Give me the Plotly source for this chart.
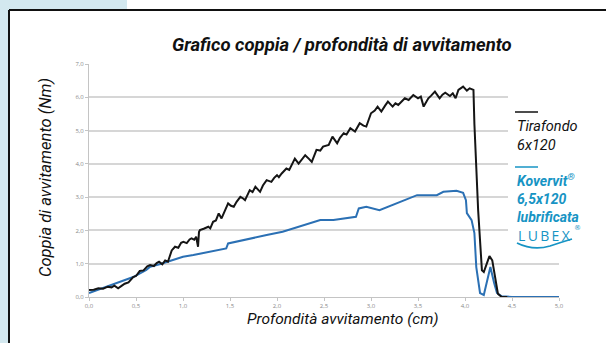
import plotly.graph_objects as go

# Torque vs. screwing depth measurements
tirafondo_x = [0.00, 0.05, 0.10, 0.15, 0.20, 0.24, 0.27, 0.31, 0.35, 0.38, 0.42, 0.47, 0.50, 0.54,
               0.58, 0.62, 0.65, 0.69, 0.72, 0.745, 0.78, 0.81, 0.84, 0.88, 0.915, 0.95, 0.98,
               1.004, 1.04, 1.07, 1.09, 1.12, 1.14, 1.16, 1.17, 1.18, 1.22, 1.27, 1.29, 1.32,
               1.35, 1.38, 1.41, 1.44, 1.48, 1.51, 1.54, 1.57, 1.61, 1.64, 1.66, 1.71, 1.74,
               1.77, 1.82, 1.85, 1.89, 1.94, 1.97, 2.00, 2.02, 2.05, 2.10, 2.13, 2.16, 2.19,
               2.23, 2.26, 2.30, 2.34, 2.37, 2.42, 2.46, 2.49, 2.55, 2.59, 2.64, 2.67, 2.71,
               2.74, 2.78, 2.83, 2.88, 2.92, 2.95, 3.00, 3.04, 3.07, 3.11, 3.15, 3.18, 3.23,
               3.26, 3.29, 3.33, 3.36, 3.40, 3.45, 3.50, 3.53, 3.56, 3.61, 3.64, 3.68, 3.73,
               3.76, 3.79, 3.84, 3.87, 3.90, 3.93, 3.98, 4.02, 4.05, 4.09, 4.10, 4.14, 4.18,
               4.20, 4.23, 4.26, 4.29, 4.32, 4.35, 4.39, 4.45]
tirafondo_y = [0.21, 0.22, 0.26, 0.25, 0.31, 0.29, 0.34, 0.26, 0.34, 0.40, 0.44, 0.60, 0.63, 0.78,
               0.80, 0.92, 0.96, 0.93, 1.02, 1.06, 0.98, 1.10, 1.06, 1.40, 1.51, 1.48, 1.63,
               1.66, 1.62, 1.73, 1.76, 1.72, 1.81, 1.51, 1.95, 2.01, 2.05, 2.11, 2.06, 2.26,
               2.30, 2.51, 2.36, 2.55, 2.81, 2.74, 2.71, 2.86, 3.01, 2.96, 2.91, 3.21, 3.15,
               3.31, 3.16, 3.35, 3.51, 3.46, 3.58, 3.66, 3.60, 3.71, 3.86, 3.82, 4.00, 4.16,
               4.01, 4.12, 4.26, 4.15, 4.06, 4.42, 4.40, 4.52, 4.57, 4.82, 4.62, 4.78, 4.92,
               4.88, 5.07, 4.97, 5.22, 5.15, 5.12, 5.52, 5.60, 5.72, 5.57, 5.75, 5.87, 5.72,
               5.82, 5.77, 5.90, 5.97, 5.92, 6.07, 5.97, 6.02, 5.72, 5.97, 6.05, 6.17, 5.97,
               6.08, 6.14, 6.04, 6.12, 5.97, 6.22, 6.32, 6.20, 6.27, 6.22, 5.20, 2.60, 0.80,
               0.75, 0.96, 1.23, 1.10, 0.60, 0.10, 0.00, 0.00]

kovervit_x = [0.00, 0.10, 0.26, 0.47, 0.61, 0.65, 0.76, 0.90, 1.00, 1.11, 1.32, 1.46, 1.48, 1.71,
              1.89, 2.06, 2.28, 2.46, 2.60, 2.84, 2.87, 2.95, 3.09, 3.27, 3.41, 3.49, 3.70, 3.77,
              3.91, 3.98, 4.01, 4.02, 4.07, 4.10, 4.12, 4.16, 4.20, 4.23, 4.27, 4.31, 4.34, 4.39,
              4.50, 5.00]
kovervit_y = [0.12, 0.22, 0.39, 0.60, 0.81, 0.91, 0.99, 1.11, 1.21, 1.26, 1.38, 1.46, 1.61, 1.76,
              1.86, 1.96, 2.16, 2.31, 2.31, 2.41, 2.66, 2.71, 2.61, 2.81, 2.97, 3.06, 3.06, 3.16,
              3.19, 3.13, 2.91, 2.52, 2.31, 1.92, 0.90, 0.12, 0.06, 0.42, 0.90, 0.42, 0.12, 0.02,
              0.00, 0.00]

x_ticks = [0.0, 0.5, 1.0, 1.5, 2.0, 2.5, 3.0, 3.5, 4.0, 4.5, 5.0]
y_ticks = [0, 1, 2, 3, 4, 5, 6, 7]

W, H = 606, 343
L, R, T, B = 89, 47, 64, 46
PW, PH = W - L - R, H - T - B


def px(x):
    return (x - L) / PW


def py(y):
    return (H - B - y) / PH


COND = "Liberation Sans Narrow, Arial Narrow, Roboto, sans-serif"
BLUE_TXT = "#1794c4"

fig = go.Figure()
fig.add_trace(go.Scatter(x=kovervit_x, y=kovervit_y, mode="lines",
                         line=dict(color="#2b70b4", width=2), hoverinfo="skip"))
fig.add_trace(go.Scatter(x=tirafondo_x, y=tirafondo_y, mode="lines",
                         line=dict(color="#151515", width=2), hoverinfo="skip"))

shapes = [
    # light blue page edges
    dict(type="rect", xref="paper", yref="paper", x0=px(0), x1=px(127), y0=py(0), y1=py(10),
         fillcolor="#d3e8ef", line_width=0, layer="below"),
    dict(type="rect", xref="paper", yref="paper", x0=px(0), x1=px(9), y0=py(0), y1=py(343),
         fillcolor="#d3e8ef", line_width=0, layer="below"),
    # card border
    dict(type="line", xref="paper", yref="paper", x0=px(9), x1=px(606), y0=py(10), y1=py(10),
         line=dict(color="#111", width=2)),
    dict(type="line", xref="paper", yref="paper", x0=px(9), x1=px(9), y0=py(10), y1=py(343),
         line=dict(color="#111", width=2)),
    # white panel behind the legend
    dict(type="rect", xref="paper", yref="paper", x0=px(508), x1=px(606), y0=py(75), y1=py(252),
         fillcolor="white", line_width=0, layer="above"),
    # legend keys
    dict(type="line", xref="paper", yref="paper", x0=px(515), x1=px(538), y0=py(112), y1=py(112),
         line=dict(color="#111", width=1.5)),
    dict(type="line", xref="paper", yref="paper", x0=px(515), x1=px(538), y0=py(167), y1=py(167),
         line=dict(color=BLUE_TXT, width=1.5)),
    # LUBEX swoosh
    dict(type="path", xref="paper", yref="paper",
         path=f"M {px(517)},{py(243)} Q {px(533)},{py(251)} {px(550)},{py(246)} "
              f"Q {px(562)},{py(242)} {px(572)},{py(239)}",
         line=dict(color=BLUE_TXT, width=1.8)),
]

annotations = [
    dict(text="<b><i>Grafico coppia / profondità di avvitamento</i></b>", x=px(342), y=py(45),
         font=dict(family=COND, size=18.5, color="#111")),
    dict(text="<i>Coppia di avvitamento (Nm)</i>", x=px(45), y=py(178), textangle=-90,
         font=dict(family=COND, size=16.5, color="#111")),
    dict(text="<i>Profondità avvitamento (cm)</i>", x=px(343), y=py(319),
         font=dict(family=COND, size=15.5, color="#111")),
    dict(text="<i>Tirafondo<br>6x120</i>", x=px(515), y=py(136), xanchor="left", align="left",
         font=dict(family=COND, size=14.5, color="#111")),
    dict(text="<b><i>Kovervit<sup>®</sup><br>6,5x120<br>lubrificata</i></b>", x=px(515), y=py(198),
         xanchor="left", align="left",
         font=dict(family=COND, size=14, color=BLUE_TXT)),
    dict(text="L\u2009U\u2009B\u2009E\u2009X", x=px(516), y=py(235), xanchor="left",
         font=dict(family="Open Sans", size=14, color=BLUE_TXT)),
    dict(text="®", x=px(572), y=py(228), xanchor="left",
         font=dict(family="DejaVu Sans", size=7, color=BLUE_TXT)),
]
for a in annotations:
    a.update(xref="paper", yref="paper", showarrow=False)
    a.setdefault("xanchor", "center")
    a.setdefault("yanchor", "middle")

fig.update_layout(
    width=W, height=H,
    margin=dict(l=L, r=R, t=T, b=B),
    paper_bgcolor="white", plot_bgcolor="white",
    showlegend=False,
    separators=",.",
    shapes=shapes,
    annotations=annotations,
    xaxis=dict(range=[0, 5], tickvals=x_ticks, tickformat=".1f", showgrid=False, zeroline=False,
               showline=True, linecolor="#c4c4c4", linewidth=1, ticks="outside", ticklen=3,
               tickcolor="#c4c4c4", tickfont=dict(family="Open Sans", size=6, color="#8a8a8a")),
    yaxis=dict(range=[0, 7], tickvals=y_ticks, tickformat=".1f", showgrid=True,
               gridcolor="#d6d6d6", gridwidth=1.5, zeroline=False,
               showline=True, linecolor="#c4c4c4", linewidth=1, ticks="outside", ticklen=3,
               tickcolor="#c4c4c4", tickfont=dict(family="Open Sans", size=6, color="#8a8a8a")),
)

fig.write_html("out.html")
